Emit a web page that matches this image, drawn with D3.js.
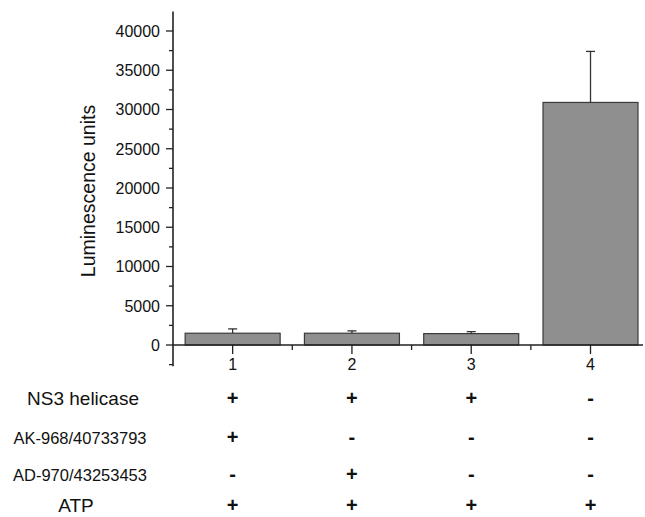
<!DOCTYPE html>
<head>
    <style>
        body { margin: 0; background: #fff; }
        text { font-family: "Liberation Sans", Arial, sans-serif; fill: #111; }
        .tick-label { font-size: 16px; }
        .cond { font-weight: bold; font-size: 20px; text-anchor: middle; }
    </style>
    <script src="https://d3js.org/d3.v7.min.js"></script>
</head>
<body>
    <svg width="645" height="517"></svg>
    <script>
        // data
        var lanes = [1, 2, 3, 4];
        var means = [1500, 1500, 1450, 30900];
        var errs = [550, 300, 250, 6500];
        var yTicks = [0, 5000, 10000, 15000, 20000, 25000, 30000, 35000, 40000];
        var rowLabels = ["NS3 helicase", "AK-968/40733793", "AD-970/43253453", "ATP"];
        var ns3 = ["+", "+", "+", "-"];
        var ak968 = ["+", "-", "-", "-"];
        var ad970 = ["-", "+", "-", "-"];
        var atp = ["+", "+", "+", "+"];

        var svg = d3.select("svg");

        var x = d3.scaleLinear().domain([0.5, 4.44]).range([173, 643]);
        var y = d3.scaleLinear().domain([0, 40000]).range([345, 31]);
        var barW = 95;

        var g = svg.append("g");

        // bars
        g.selectAll(".bar")
         .data(lanes)
         .enter().append("rect")
         .attr("x", function(d) { return x(d) - barW / 2; })
         .attr("y", function(d, i) { return y(means[i]); })
         .attr("width", barW)
         .attr("height", function(d, i) { return y(0) - y(means[i]); })
         .attr("fill", "#8f8f8f")
         .attr("stroke", "#3a3a3a")
         .attr("stroke-width", 1.2);

        // error bars
        var eb = g.selectAll(".err").data(lanes).enter().append("g");
        eb.append("line")
          .attr("x1", function(d) { return x(d); })
          .attr("x2", function(d) { return x(d); })
          .attr("y1", function(d, i) { return y(means[i]); })
          .attr("y2", function(d, i) { return y(means[i] + errs[i]); })
          .attr("stroke", "#333").attr("stroke-width", 1.3);
        eb.append("line")
          .attr("x1", function(d) { return x(d) - 4.5; })
          .attr("x2", function(d) { return x(d) + 4.5; })
          .attr("y1", function(d, i) { return y(means[i] + errs[i]); })
          .attr("y2", function(d, i) { return y(means[i] + errs[i]); })
          .attr("stroke", "#333").attr("stroke-width", 1.3);

        // y axis
        var yAxis = svg.append("g");
        yAxis.append("line")
             .attr("x1", 173).attr("x2", 173)
             .attr("y1", y(-2700)).attr("y2", y(42500))
             .attr("stroke", "#222").attr("stroke-width", 1.6);
        var minorY = d3.range(-2500, 42500, 2500).filter(function(v) { return v % 5000 !== 0; });
        yAxis.selectAll(".ymin").data(minorY).enter().append("line")
             .attr("x1", 169).attr("x2", 173)
             .attr("y1", function(d) { return y(d); })
             .attr("y2", function(d) { return y(d); })
             .attr("stroke", "#222").attr("stroke-width", 1.3);
        yAxis.selectAll(".ymaj").data(yTicks).enter().append("line")
             .attr("x1", 166).attr("x2", 173)
             .attr("y1", function(d) { return y(d); })
             .attr("y2", function(d) { return y(d); })
             .attr("stroke", "#222").attr("stroke-width", 1.3);
        yAxis.selectAll(".ylab").data(yTicks).enter().append("text")
             .attr("class", "tick-label")
             .attr("x", 160)
             .attr("y", function(d) { return y(d); })
             .attr("dy", "0.36em")
             .attr("text-anchor", "end")
             .text(function(d) { return d; });

        svg.append("text")
           .attr("transform", "translate(95,191) rotate(-90)")
           .attr("text-anchor", "middle")
           .style("font-size", "19.5px")
           .text("Luminescence units");

        // x axis
        var xAxis = svg.append("g");
        xAxis.append("line")
             .attr("x1", 173).attr("x2", 643)
             .attr("y1", y(0)).attr("y2", y(0))
             .attr("stroke", "#222").attr("stroke-width", 1.3);
        xAxis.selectAll(".xmaj").data(lanes).enter().append("line")
             .attr("x1", function(d) { return x(d); })
             .attr("x2", function(d) { return x(d); })
             .attr("y1", y(0)).attr("y2", y(0) + 9)
             .attr("stroke", "#222").attr("stroke-width", 1.3);
        xAxis.selectAll(".xmin").data([1.5, 2.5, 3.5]).enter().append("line")
             .attr("x1", function(d) { return x(d); })
             .attr("x2", function(d) { return x(d); })
             .attr("y1", y(0)).attr("y2", y(0) + 5)
             .attr("stroke", "#222").attr("stroke-width", 1.3);
        xAxis.selectAll(".xlab").data(lanes).enter().append("text")
             .attr("class", "tick-label")
             .attr("x", function(d) { return x(d); })
             .attr("y", 370)
             .attr("text-anchor", "middle")
             .text(function(d) { return d; });

        // condition table
        var rows = [ns3, ak968, ad970, atp];
        var rowY = [405, 444, 481, 512];
        var rowX = [83, 80, 80, 76];
        var rowSize = [19, 16.5, 16.5, 19];
        rowLabels.forEach(function(lab, r) {
            svg.append("text")
               .attr("x", rowX[r]).attr("y", rowY[r])
               .attr("text-anchor", "middle")
               .style("font-size", rowSize[r] + "px")
               .text(lab);
            svg.selectAll(".c" + r).data(rows[r]).enter().append("text")
               .attr("class", "cond")
               .attr("x", function(d, i) { return x(lanes[i]); })
               .attr("y", rowY[r])
               .text(function(d) { return d; });
        });
    </script>
</body>
</html>
